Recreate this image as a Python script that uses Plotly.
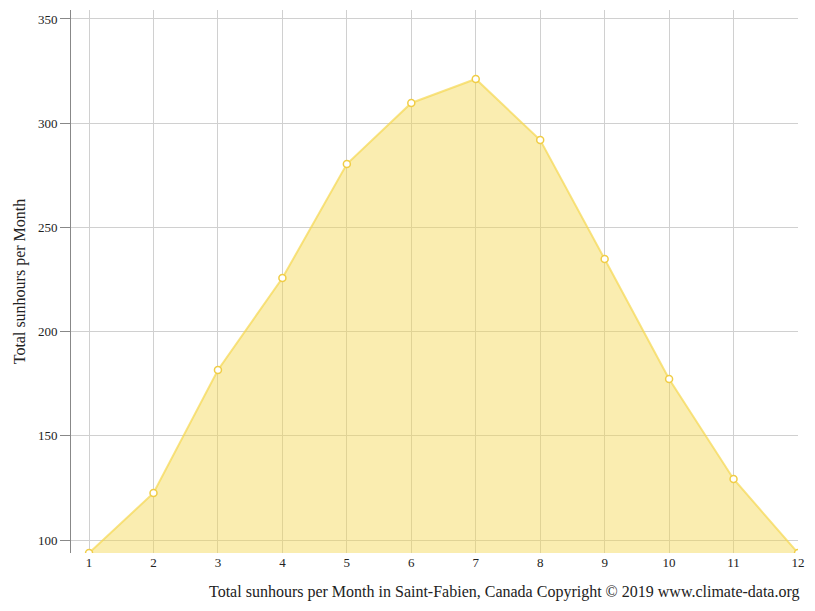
import plotly.graph_objects as go

months = [1, 2, 3, 4, 5, 6, 7, 8, 9, 10, 11, 12]
sunhours = [93.8, 122.6, 181.6, 225.7, 280.4, 309.7, 321.2, 291.9, 234.8, 177.3, 129.3, 93.8]
yticks = [100, 150, 200, 250, 300, 350]

fig = go.Figure(go.Scatter(
    x=months, y=sunhours, mode="lines+markers", fill="tozeroy",
    fillcolor="rgba(245,215,80,0.45)",
    line=dict(color="rgba(245,215,80,0.7)", width=2),
    marker=dict(size=7, color="white", line=dict(color="rgba(240,205,70,1)", width=1.5)),
))
fig.update_layout(
    width=799, height=595, paper_bgcolor="white", plot_bgcolor="white",
    margin=dict(l=63, r=9, t=2, b=50),
    font=dict(family="Liberation Serif", size=13, color="#222"),
    showlegend=False,
    annotations=[dict(text="Total sunhours per Month in Saint-Fabien, Canada Copyright © 2019 www.climate-data.org",
                      xref="paper", yref="paper", x=1.0055, y=-0.072, xanchor="right", yanchor="middle",
                      showarrow=False, font=dict(size=16))],
)
fig.update_xaxes(range=[0.72, 12], tickvals=months, showgrid=True, gridcolor="#d0d0d0",
                 zeroline=False, showline=False, ticks="", ticklen=0)
fig.update_yaxes(range=[93.8, 354.3], tickvals=yticks, showgrid=True, gridcolor="#d0d0d0",
                 zeroline=False, showline=True, linecolor="#888", ticks="outside", ticklen=10,
                 tickcolor="#888", title=dict(text="Total sunhours per Month", font=dict(size=16), standoff=8))
fig.write_html("out.html")
